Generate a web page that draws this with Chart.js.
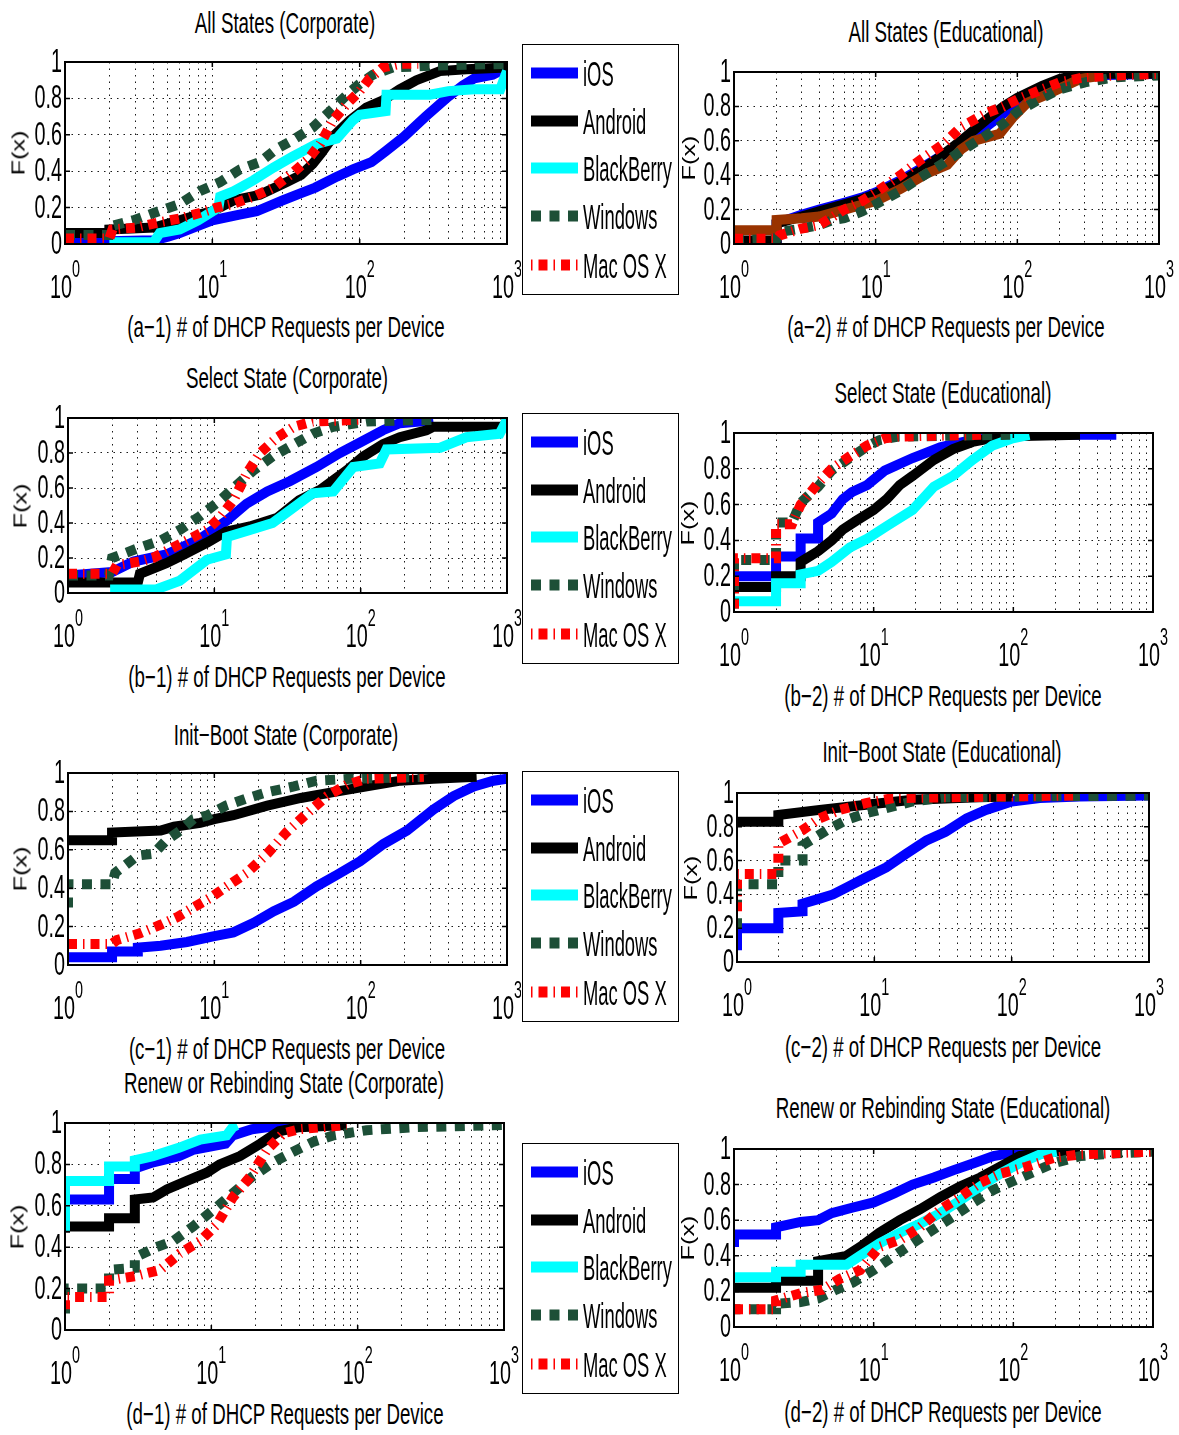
<!DOCTYPE html>
<html><head><meta charset="utf-8">
<script src="https://cdn.jsdelivr.net/npm/chart.js@4.4.1/dist/chart.umd.min.js"></script>
<style>
html,body{margin:0;padding:0;background:#fff;}
body{width:1179px;height:1435px;position:relative;overflow:hidden;font-family:"Liberation Sans",Arial,sans-serif;}
canvas{position:absolute;}
.t{position:absolute;white-space:nowrap;line-height:1;color:#000;}
.legend{position:absolute;border:1.5px solid #000;background:#fff;box-sizing:border-box;}
.legend svg{position:absolute;}
</style></head><body>
<script>
// ---------- labels ----------
const seriesNames = ['iOS','Android','BlackBerry','Windows','Mac OS X'];
const xTickValues = [1,10,100,1000];
const xTickExponents = ['0','1','2','3'];
const xGridValues = [1,2,3,4,5,6,7,8,9,10,20,30,40,50,60,70,80,90,100,200,300,400,500,600,700,800,900,1000];
const yTickValues = [0,0.2,0.4,0.6,0.8,1];
const yTickLabels = ['0','0.2','0.4','0.6','0.8','1'];
const yAxisLabel = 'F(x)';
const panelTitles = ['All States (Corporate)','All States (Educational)','Select State (Corporate)','Select State (Educational)','Init\u2212Boot State (Corporate)','Init\u2212Boot State (Educational)','Renew or Rebinding State (Corporate)','Renew or Rebinding State (Educational)'];
const panelXLabels = ['(a\u22121) # of DHCP Requests per Device','(a\u22122) # of DHCP Requests per Device','(b\u22121) # of DHCP Requests per Device','(b\u22122) # of DHCP Requests per Device','(c\u22121) # of DHCP Requests per Device','(c\u22122) # of DHCP Requests per Device','(d\u22121) # of DHCP Requests per Device','(d\u22122) # of DHCP Requests per Device'];

// ---------- data: [requests per device, F(x)] ----------
// (a-1)
const a1_iOS = [[1,0.01],[4,0.02],[5,0.04],[6,0.06],[8,0.1],[10,0.13],[15,0.16],[20,0.18],[30,0.24],[40,0.28],[50,0.31],[70,0.37],[90,0.41],[120,0.45],[150,0.51],[200,0.59],[280,0.7],[400,0.81],[500,0.87],[600,0.91],[800,0.93],[1000,0.97]];
const a1_Android = [[1,0.06],[2,0.06],[2,0.08],[4,0.09],[6,0.13],[8,0.16],[10,0.18],[14,0.24],[21,0.27],[25,0.3],[32,0.34],[40,0.38],[48,0.44],[55,0.5],[66,0.59],[86,0.68],[111,0.75],[144,0.79],[187,0.85],[243,0.9],[350,0.95],[530,0.96],[1000,0.97]];
const a1_BlackBerry = [[2,0.01],[4,0.01],[4.4,0.06],[6,0.08],[8,0.13],[11,0.2],[11.3,0.26],[14,0.29],[19,0.35],[26,0.42],[35,0.48],[51,0.55],[70,0.58],[90,0.68],[100,0.71],[150,0.73],[152,0.82],[300,0.82],[400,0.84],[600,0.85],[900,0.85],[1000,0.95]];
const a1_Windows = [[1,0.05],[2,0.05],[2.1,0.1],[2.9,0.13],[4,0.17],[6,0.22],[8.2,0.29],[11.3,0.34],[15.4,0.41],[21,0.45],[27,0.52],[35,0.57],[48,0.64],[63,0.73],[82,0.82],[100,0.88],[123,0.93],[168,0.97],[316,0.98],[1000,0.99]];
const a1_Mac = [[1,0.03],[2,0.03],[2.1,0.08],[3,0.09],[4.4,0.12],[6,0.14],[8.2,0.17],[10.7,0.2],[13.8,0.22],[19,0.26],[26,0.31],[35,0.39],[44,0.46],[54,0.55],[66,0.68],[82,0.77],[100,0.84],[117,0.91],[144,0.97],[187,0.99],[250,0.99]];
// (a-2)
const a2_iOS = [[1,0.01],[2,0.01],[2,0.12],[3,0.17],[4,0.2],[6,0.24],[8,0.27],[10,0.3],[15,0.37],[20,0.43],[30,0.52],[40,0.58],[60,0.68],[80,0.76],[100,0.83],[150,0.91],[200,0.95],[300,0.98],[1000,0.99]];
const a2_Android = [[1,0.02],[2,0.02],[2,0.12],[3,0.16],[4,0.19],[6,0.23],[8,0.26],[10,0.29],[15,0.36],[20,0.42],[30,0.52],[40,0.6],[60,0.72],[80,0.8],[100,0.85],[150,0.92],[200,0.96],[300,0.99],[1000,0.99]];
const a2_BlackBerry = [[1,0.08],[2,0.08],[2,0.14],[3,0.15],[4,0.16],[6,0.2],[10,0.25],[15,0.32],[23,0.41],[32,0.46],[40,0.55],[49,0.6],[75,0.64],[94,0.74],[117,0.82],[162,0.87],[278,0.96],[400,0.98]];
const a2_Windows = [[1,0.02],[2,0.03],[2.1,0.07],[3,0.09],[4,0.11],[5,0.14],[6,0.15],[8,0.19],[10,0.23],[15,0.31],[20,0.38],[30,0.47],[40,0.54],[60,0.63],[80,0.7],[100,0.77],[150,0.85],[200,0.9],[300,0.94],[500,0.97],[1000,0.98]];
const a2_Mac = [[1,0.03],[2,0.03],[2.1,0.05],[3,0.09],[4,0.11],[5,0.16],[6,0.2],[8,0.25],[10,0.3],[15,0.4],[20,0.48],[30,0.58],[40,0.68],[60,0.76],[80,0.8],[100,0.84],[150,0.9],[200,0.94],[300,0.97],[500,0.98],[1000,0.99]];
// (b-1)
const b1_iOS = [[1,0.1],[2,0.12],[2.8,0.18],[4.7,0.22],[8,0.31],[12,0.41],[16.6,0.51],[23,0.58],[33,0.64],[50,0.72],[72,0.8],[99,0.86],[142,0.93],[185,0.97],[253,0.98],[313,0.99]];
const b1_Android = [[1,0.06],[3,0.06],[3.1,0.11],[4.7,0.17],[6.2,0.22],[9,0.29],[12,0.35],[17.5,0.38],[27,0.43],[38,0.53],[53,0.59],[80,0.7],[104,0.78],[142,0.85],[185,0.89],[281,0.93],[313,0.95],[950,0.95],[1000,0.99]];
const b1_BlackBerry = [[1.94,0.02],[4,0.02],[5.8,0.07],[8.9,0.19],[12,0.22],[12.2,0.32],[17.5,0.36],[25,0.4],[35,0.49],[47,0.57],[65,0.58],[89,0.72],[135,0.74],[150,0.82],[350,0.83],[527,0.89],[890,0.91],[1000,0.99]];
const b1_Windows = [[1,0.1],[1.9,0.1],[2,0.2],[3.1,0.26],[4.3,0.3],[5.8,0.36],[8,0.44],[11,0.53],[13.5,0.6],[18.5,0.7],[25,0.78],[35,0.85],[47,0.91],[65,0.95],[110,0.98],[330,0.99]];
const b1_Mac = [[1,0.11],[2,0.11],[2.16,0.16],[3.1,0.18],[3.8,0.2],[6.5,0.3],[8.9,0.36],[10.9,0.43],[13.5,0.53],[16.6,0.68],[20.5,0.8],[27,0.89],[35,0.95],[47,0.98],[99,0.99]];
// (b-2)
const b2_iOS = [[1,0.2],[2,0.2],[2,0.31],[3,0.31],[3,0.41],[4,0.41],[4,0.5],[5,0.55],[6,0.63],[7,0.67],[9,0.71],[12,0.79],[19,0.86],[30,0.92],[44,0.95],[70,0.98],[100,0.99],[546,0.99]];
const b2_Android = [[1,0.14],[2,0.14],[2,0.2],[3,0.2],[3,0.28],[4,0.34],[5,0.4],[6,0.46],[7.5,0.51],[10,0.57],[12.4,0.63],[15.4,0.71],[19,0.76],[27,0.85],[37,0.91],[51,0.95],[80,0.98],[300,0.99]];
const b2_BlackBerry = [[1,0.06],[2,0.06],[2,0.16],[3,0.16],[3,0.21],[4,0.23],[5,0.28],[6.75,0.36],[9,0.41],[12.4,0.48],[19,0.57],[27,0.7],[37,0.76],[51,0.85],[71,0.93],[99,0.97],[130,0.99]];
const b2_Windows = [[1,0.02],[1,0.29],[2,0.29],[2,0.5],[2.6,0.5],[3,0.61],[4,0.7],[5,0.79],[6.75,0.86],[9,0.925],[11,0.96],[15,0.98],[95,0.99]];
const b2_Mac = [[1,0.02],[1,0.3],[2,0.3],[2,0.49],[2.6,0.49],[3,0.6],[4,0.72],[5,0.8],[6.75,0.87],[9,0.93],[12,0.97],[15,0.98],[60,0.99]];
// (c-1)
const c1_iOS = [[1,0.04],[2,0.04],[2,0.07],[3,0.07],[3,0.09],[4.3,0.1],[6.5,0.12],[10,0.15],[13.5,0.17],[18.6,0.22],[25.5,0.28],[35,0.33],[50,0.41],[69,0.47],[99,0.54],[143,0.63],[207,0.7],[314,0.81],[432,0.88],[593,0.93],[810,0.96],[1000,0.97]];
const c1_Android = [[1,0.65],[2,0.65],[2,0.69],[4.3,0.7],[5.3,0.72],[8,0.74],[10,0.76],[13.5,0.78],[23,0.83],[39,0.87],[65,0.9],[110,0.93],[187,0.96],[314,0.97],[620,0.98]];
const c1_Windows = [[1,0.3],[1,0.42],[2,0.42],[2.1,0.48],[3,0.57],[3.85,0.58],[4.7,0.65],[5.85,0.7],[7.2,0.76],[9,0.78],[12,0.83],[17,0.87],[23,0.9],[35,0.93],[50,0.96],[85,0.97],[270,0.98]];
const c1_Mac = [[1,0.11],[2,0.11],[2.16,0.13],[3.1,0.165],[4.3,0.21],[5.6,0.25],[7.2,0.3],[9.4,0.35],[12.2,0.41],[16.7,0.48],[23,0.58],[31,0.69],[43,0.79],[59,0.88],[81,0.94],[110,0.97],[270,0.98]];
// (c-2)
const c2_iOS = [[1,0.07],[1,0.2],[2,0.2],[2,0.29],[3,0.3],[3,0.345],[4,0.375],[5,0.4],[6.25,0.44],[8.7,0.5],[12.2,0.56],[17,0.64],[24,0.72],[33,0.77],[47,0.85],[65,0.9],[100,0.95],[160,0.97],[312,0.98],[1000,0.985]];
const c2_Android = [[1,0.83],[2,0.83],[2,0.87],[4,0.9],[8.7,0.93],[19,0.96],[58,0.975],[100,0.98]];
const c2_Windows = [[1,0.2],[1,0.46],[2,0.46],[2,0.6],[3,0.6],[3,0.69],[4.5,0.78],[6.25,0.84],[8.7,0.88],[12.2,0.91],[19,0.95],[33,0.975],[1000,0.985]];
const c2_Mac = [[1,0.3],[1,0.52],[2,0.52],[2,0.7],[3,0.78],[4,0.85],[5.6,0.9],[8.7,0.94],[13.7,0.97],[280,0.985]];
// (d-1)
const d1_iOS = [[1,0.48],[1,0.63],[2,0.63],[2,0.73],[3,0.73],[3,0.78],[4,0.81],[6,0.84],[7.5,0.87],[12.5,0.9],[14,0.94],[19,0.97],[31,0.99],[80,0.99]];
const d1_Android = [[1,0.47],[1,0.5],[2,0.5],[2,0.54],[3,0.54],[3,0.63],[4,0.64],[5,0.68],[6.8,0.72],[9.3,0.76],[11.4,0.8],[15.7,0.84],[21.6,0.9],[29,0.96],[40,0.98],[84,0.99]];
const d1_BlackBerry = [[1,0.48],[1,0.72],[2,0.72],[2,0.79],[3,0.79],[3,0.82],[4,0.84],[6,0.88],[8.4,0.92],[12.7,0.94],[14,0.98],[15,0.99]];
const d1_Windows = [[1,0.08],[1,0.2],[2,0.2],[2,0.29],[3,0.3],[3,0.35],[4.2,0.4],[5.5,0.43],[7.5,0.5],[10.3,0.58],[14,0.66],[19,0.74],[26.5,0.81],[36,0.86],[50,0.91],[68,0.94],[115,0.965],[253,0.98],[1000,0.99]];
const d1_Mac = [[1,0.1],[1,0.16],[2,0.16],[2,0.24],[3,0.26],[4.45,0.29],[6.1,0.37],[8.4,0.43],[10.9,0.51],[14,0.64],[18.4,0.74],[24,0.87],[31,0.95],[40,0.97],[84,0.99]];
// (d-2)
const d2_iOS = [[1,0.45],[1,0.52],[2,0.52],[2,0.56],[3,0.59],[4,0.6],[5,0.64],[7,0.67],[10,0.7],[14,0.75],[19,0.8],[27,0.84],[37,0.88],[52,0.92],[72,0.96],[100,0.98],[156,0.99]];
const d2_Android = [[1,0.22],[2,0.22],[2,0.26],[4,0.26],[4,0.37],[6.4,0.4],[8,0.45],[11,0.53],[15.4,0.6],[21.4,0.66],[30,0.73],[41.5,0.79],[58,0.84],[80,0.9],[111,0.96],[174,0.985],[300,0.99]];
const d2_BlackBerry = [[1,0.25],[1,0.28],[2,0.28],[2,0.31],[3,0.31],[3,0.35],[6.4,0.35],[8,0.4],[11,0.47],[15.4,0.53],[21.4,0.58],[30,0.64],[41.5,0.71],[58,0.79],[80,0.86],[111,0.92],[156,0.97],[204,0.985]];
const d2_Windows = [[1,0.08],[1,0.1],[2,0.1],[2,0.13],[3,0.14],[4,0.16],[5.4,0.21],[7.1,0.25],[10,0.32],[14,0.4],[19,0.47],[27,0.55],[37,0.62],[52,0.7],[72,0.77],[100,0.82],[139,0.87],[194,0.92],[300,0.96],[520,0.975],[1000,0.985]];
const d2_Mac = [[1,0.1],[2,0.1],[2,0.15],[3,0.19],[4.3,0.21],[5.7,0.27],[8,0.32],[11,0.45],[15.4,0.49],[21.4,0.56],[30,0.66],[41.5,0.73],[58,0.81],[80,0.86],[124,0.9],[194,0.95],[300,0.97],[1000,0.985]];

const panelSeries = [
  [a1_iOS,a1_Android,a1_BlackBerry,a1_Windows,a1_Mac],
  [a2_iOS,a2_Android,a2_BlackBerry,a2_Windows,a2_Mac],
  [b1_iOS,b1_Android,b1_BlackBerry,b1_Windows,b1_Mac],
  [b2_iOS,b2_Android,b2_BlackBerry,b2_Windows,b2_Mac],
  [c1_iOS,c1_Android,null,c1_Windows,c1_Mac],
  [c2_iOS,c2_Android,null,c2_Windows,c2_Mac],
  [d1_iOS,d1_Android,d1_BlackBerry,d1_Windows,d1_Mac],
  [d2_iOS,d2_Android,d2_BlackBerry,d2_Windows,d2_Mac]
];

// ---------- styles & layout ----------
const seriesColors = ['#0000ff','#000000','#00ffff','#1d4f37','#ff0000'];
const seriesDash = [[],[],[],[10,8.5],[9,6,1.5,6]];
const legendDash = ['','','','10 8.5','1.5 6 9 6'];
const colorOverride = {1:{2:'#993300'}};
const layout = [
  {L:65,R:507,T:62,B:244,tx:285,tb:33,lx:286,lb:338,fx:19},
  {L:734,R:1159,T:72,B:244,tx:946,tb:42,lx:946,lb:338,fx:689},
  {L:68,R:507,T:418,B:593,tx:287,tb:388,lx:287,lb:688,fx:21},
  {L:734,R:1153,T:433,B:612,tx:943,tb:403,lx:943,lb:707,fx:688},
  {L:68,R:507,T:773,B:965,tx:286,tb:745,lx:287,lb:1060,fx:21},
  {L:737,R:1149,T:793,B:962,tx:942,tb:762,lx:943,lb:1058,fx:691},
  {L:65,R:504,T:1123,B:1330,tx:284,tb:1093,lx:285,lb:1425,fx:18},
  {L:734,R:1153,T:1149,B:1327,tx:943,tb:1118,lx:943,lb:1423,fx:688}
];
const legendTops = [44,413,771,1143];
const legendRows = [29,77,124,172,221];
const FONT = '"Liberation Sans", Arial, sans-serif';

function addText(txt, cx, baseline, size, sx, align) {
  const d = document.createElement('div');
  d.className = 't';
  d.textContent = txt;
  d.style.font = size + 'px ' + FONT;
  d.style.lineHeight = '1';
  d.style.left = cx + 'px';
  d.style.top = (baseline - 0.8465 * size) + 'px';
  if (align === 'left') { d.style.transformOrigin = '0 50%'; d.style.transform = 'scaleX(' + sx + ')'; }
  else { d.style.transform = 'translateX(-50%) scaleX(' + sx + ')'; }
  document.body.appendChild(d);
  return d;
}

function scaledText(ctx, txt, x, y, sx, align) {
  ctx.save(); ctx.translate(x, y); ctx.scale(sx, 1); ctx.textAlign = align; ctx.fillText(txt, 0, 0); ctx.restore();
}

const framePlugin = {
  id: 'frame',
  afterDraw(chart) {
    const {ctx, chartArea: a, scales: {x, y}} = chart;
    ctx.save();
    ctx.setLineDash([]);
    ctx.strokeStyle = '#000';
    ctx.lineWidth = 1.5;
    ctx.beginPath();
    xTickValues.forEach(v => { const px = x.getPixelForValue(v); ctx.moveTo(px, a.bottom); ctx.lineTo(px, a.bottom - 5); ctx.moveTo(px, a.top); ctx.lineTo(px, a.top + 5); });
    yTickValues.forEach(v => { const py = y.getPixelForValue(v); ctx.moveTo(a.left, py); ctx.lineTo(a.left + 5, py); ctx.moveTo(a.right, py); ctx.lineTo(a.right - 5, py); });
    ctx.stroke();
    ctx.lineWidth = 2;
    ctx.strokeRect(a.left, a.top, a.right - a.left, a.bottom - a.top);
    ctx.fillStyle = '#000';
    ctx.font = '33px ' + FONT;
    ctx.textBaseline = 'middle';
    yTickValues.forEach((v, i) => scaledText(ctx, yTickLabels[i], a.left - 3, y.getPixelForValue(v) + 1, 0.6, 'right'));
    ctx.textBaseline = 'alphabetic';
    xTickValues.forEach((v, i) => {
      const px = x.getPixelForValue(v);
      ctx.font = '33px ' + FONT;
      const w1 = ctx.measureText('10').width * 0.6;
      ctx.font = '24px ' + FONT;
      const w2 = ctx.measureText(xTickExponents[i]).width * 0.6;
      const x0 = px - (w1 + w2) / 2;
      ctx.font = '33px ' + FONT;
      scaledText(ctx, '10', x0, a.bottom + 54, 0.6, 'left');
      ctx.font = '24px ' + FONT;
      scaledText(ctx, xTickExponents[i], x0 + w1, a.bottom + 33, 0.6, 'left');
    });
    ctx.restore();
  }
};

layout.forEach((p, k) => {
  const left = (k % 2 === 0);
  const cl = left ? 0 : 680, cw = left ? 521 : 499;
  const ct = p.T - 20, ch = (p.B - p.T) + 20 + 62;
  const cv = document.createElement('canvas');
  cv.width = cw; cv.height = ch;
  cv.style.left = cl + 'px'; cv.style.top = ct + 'px';
  cv.style.width = cw + 'px'; cv.style.height = ch + 'px';
  document.body.appendChild(cv);

  const datasets = [];
  panelSeries[k].forEach((pts, i) => {
    if (!pts) return;
    const col = (colorOverride[k] && colorOverride[k][i]) || seriesColors[i];
    datasets.push({
      label: seriesNames[i],
      data: pts.map(([x, y]) => ({x, y})),
      borderColor: col,
      backgroundColor: col,
      borderWidth: 10,
      borderDash: seriesDash[i],
      borderCapStyle: 'butt',
      borderJoinStyle: 'miter',
      pointRadius: 0,
      fill: false,
      tension: 0,
      clip: 0,
      order: 5 - i
    });
  });

  new Chart(cv, {
    type: 'line',
    data: {datasets},
    plugins: [framePlugin],
    options: {
      responsive: false, animation: false, devicePixelRatio: 1, events: [],
      layout: {padding: {left: p.L - cl, right: cl + cw - p.R, top: 20, bottom: 62}},
      plugins: {legend: {display: false}, tooltip: {enabled: false}},
      scales: {
        x: {type: 'logarithmic', min: 1, max: 1000,
            afterBuildTicks: s => { s.ticks = xGridValues.map(v => ({value: v})); },
            afterFit: s => { s.height = 0; },
            ticks: {display: false, autoSkip: false},
            grid: {color: 'rgba(0,0,0,0.9)', lineWidth: 1, drawTicks: false},
            border: {display: false, dash: [1.5, 5]}},
        y: {type: 'linear', min: 0, max: 1,
            afterBuildTicks: s => { s.ticks = yTickValues.map(v => ({value: v})); },
            afterFit: s => { s.width = 0; },
            ticks: {display: false, autoSkip: false},
            grid: {color: 'rgba(0,0,0,0.9)', lineWidth: 1, drawTicks: false},
            border: {display: false, dash: [1.5, 5]}}
      }
    }
  });

  addText(panelTitles[k], p.tx, p.tb, 30, 0.625, 'center');
  addText(panelXLabels[k], p.lx, p.lb, 29, 0.645, 'center');
  const f = document.createElement('div');
  f.className = 't';
  f.textContent = yAxisLabel;
  f.style.font = '18px ' + FONT;
  f.style.left = p.fx + 'px';
  f.style.top = ((p.T + p.B) / 2) + 'px';
  f.style.transform = 'translate(-50%,-50%) rotate(-90deg) scaleX(1.4)';
  document.body.appendChild(f);
});

// legends (left column)
legendTops.forEach(top => {
  const box = document.createElement('div');
  box.className = 'legend';
  box.style.left = '522px'; box.style.top = top + 'px';
  box.style.width = '157px'; box.style.height = '251px';
  document.body.appendChild(box);
  seriesNames.forEach((name, i) => {
    const cy = legendRows[i] - 1.5;
    const ns = 'http://www.w3.org/2000/svg';
    const svg = document.createElementNS(ns, 'svg');
    svg.setAttribute('width', '47'); svg.setAttribute('height', '14');
    svg.style.left = '7.5px'; svg.style.top = (cy - 7) + 'px';
    const ln = document.createElementNS(ns, 'line');
    ln.setAttribute('x1', '0'); ln.setAttribute('x2', '47');
    ln.setAttribute('y1', '7'); ln.setAttribute('y2', '7');
    ln.setAttribute('stroke', seriesColors[i]);
    ln.setAttribute('stroke-width', '11');
    if (legendDash[i]) ln.setAttribute('stroke-dasharray', legendDash[i]);
    svg.appendChild(ln);
    box.appendChild(svg);
    const t = document.createElement('div');
    t.className = 't';
    t.textContent = name;
    t.style.font = '35px ' + FONT;
    t.style.lineHeight = '1';
    t.style.left = '59.5px';
    t.style.top = (cy + 13 - 0.8465 * 35) + 'px';
    t.style.transformOrigin = '0 50%';
    t.style.transform = 'scaleX(0.525)';
    box.appendChild(t);
  });
});
</script>
</body></html>
